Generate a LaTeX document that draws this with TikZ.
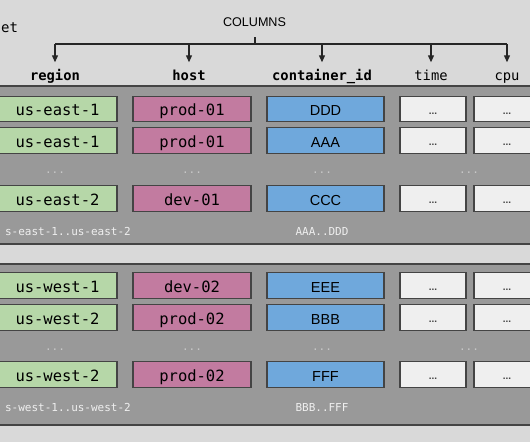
\documentclass[tikz,border=0pt]{standalone}
\usepackage{fontspec}
\setmainfont{Liberation Sans}
\setsansfont{Liberation Sans}
\setmonofont{DejaVu Sans Mono}
\usepackage{xcolor}
\definecolor{pagegray}{HTML}{D9D9D9}
\definecolor{panelgray}{HTML}{999999}
\definecolor{edgegray}{HTML}{444444}
\definecolor{regiongreen}{HTML}{B6D7A8}
\definecolor{hostpink}{HTML}{C27BA0}
\definecolor{idblue}{HTML}{6FA8DC}
\definecolor{celllight}{HTML}{EFEFEF}
\definecolor{dotgray}{HTML}{C8C8C8}
\usepackage{tikz}
\usetikzlibrary{arrows.meta, positioning}

\tikzset{
	cell/.style={draw=edgegray, line width=1.2pt, minimum height=25.5pt, inner sep=0pt,
		text height=16pt, text depth=3pt, font=\fontsize{15.5}{18}\selectfont\ttfamily},
	idcell/.style={cell, fill=idblue, minimum width=117pt, font=\fontsize{14.5}{17}\selectfont\sffamily},
	valcell/.style={cell, fill=celllight, minimum width=66pt, text height=13pt,
		text=edgegray, font=\fontsize{10}{11}\selectfont\sffamily\bfseries},
	hdr/.style={anchor=base, inner sep=0pt, text height=10pt, text depth=3pt,
		font=\fontsize{13.8}{16}\selectfont\ttfamily},
	gapdots/.style={anchor=base, text=dotgray, font=\fontsize{11}{12}\selectfont\ttfamily},
	spanlabel/.style={anchor=base, text=celllight, font=\fontsize{11}{13}\selectfont\ttfamily},
	panel/.style={fill=panelgray, draw=edgegray, line width=1.3pt},
	arr/.style={-{Triangle[length=7pt, width=6pt]}, shorten >=8pt}
}

\begin{document}
\begin{tikzpicture}[x=1pt, y=-1pt]
	\clip (0, 0) rectangle (530, 442);
	\fill[pagegray] (0, 0) rectangle (530, 442);
	
	% two row groups
	\draw[panel] (-5, 86) rectangle (535, 244);
	\draw[panel] (-5, 264) rectangle (535, 425);
	
	\node[hdr, anchor=base west, font=\fontsize{14}{17}\selectfont\ttfamily] (set) at (1, 32.5) {et};
	\node[anchor=base, inner sep=0pt, font=\fontsize{12.6}{15}\selectfont] (cols) at (254.5, 26) {COLUMNS};
	
	\node[hdr] (h-region) at (55, 80.5) {\textbf{region}};
	\node[hdr] (h-host) at (189, 80.5) {\textbf{host}};
	\node[hdr] (h-id) at (322, 80.5) {\textbf{container\_id}};
	\node[hdr] (h-time) at (431, 80.5) {time};
	\node[hdr] (h-cpu) at (507, 80.5) {cpu};
	
	\coordinate (tick) at (255, 37);
	\coordinate (bus) at (255, 44);
	\begin{scope}[line width=1.2pt, draw=black!85]
		\draw (tick) -- (bus);
		\draw (h-region |- bus) -- (h-cpu |- bus);
		\foreach \c in {region, host, id, time, cpu} {
			\draw[arr] (h-\c |- bus) -- (h-\c.north);
		}
	\end{scope}
	
	\foreach \y/\reg/\hst/\cid/\n in {109/us-east-1/prod-01/DDD/1, 140.5/us-east-1/prod-01/AAA/2,
		198.5/us-east-2/dev-01/CCC/3, 285.5/us-west-1/dev-02/EEE/4,
		317.5/us-west-2/prod-02/BBB/5, 374.5/us-west-2/prod-02/FFF/6} {
		\node[cell, fill=regiongreen, minimum width=119pt] (reg\n) at (57.5, \y) {\reg};
		\node[cell, fill=hostpink, minimum width=118pt] (host\n) at (192, \y) {\hst};
		\node[idcell] (id\n) at (325.5, \y) {\cid};
		\node[valcell] (time\n) at (433, \y) {...};
		\node[valcell] (cpu\n) at (507, \y) {...};
	}
	
	\foreach \y/\g in {173/a, 350/b} {
		\node[gapdots] (gap-reg-\g) at (55, \y) {...};
		\node[gapdots] (gap-host-\g) at (192, \y) {...};
		\node[gapdots] (gap-id-\g) at (322, \y) {...};
		\node[gapdots] (gap-val-\g) at (469, \y) {...};
	}
	
	\node[spanlabel, anchor=base west] (east-span) at (1.5, 235.5) {s-east-1..us-east-2};
	\node[spanlabel] (east-ids) at (322, 235.5) {AAA..DDD};
	\node[spanlabel, anchor=base west] (west-span) at (1.5, 411.5) {s-west-1..us-west-2};
	\node[spanlabel] (west-ids) at (322, 411.5) {BBB..FFF};
\end{tikzpicture}
\end{document}
